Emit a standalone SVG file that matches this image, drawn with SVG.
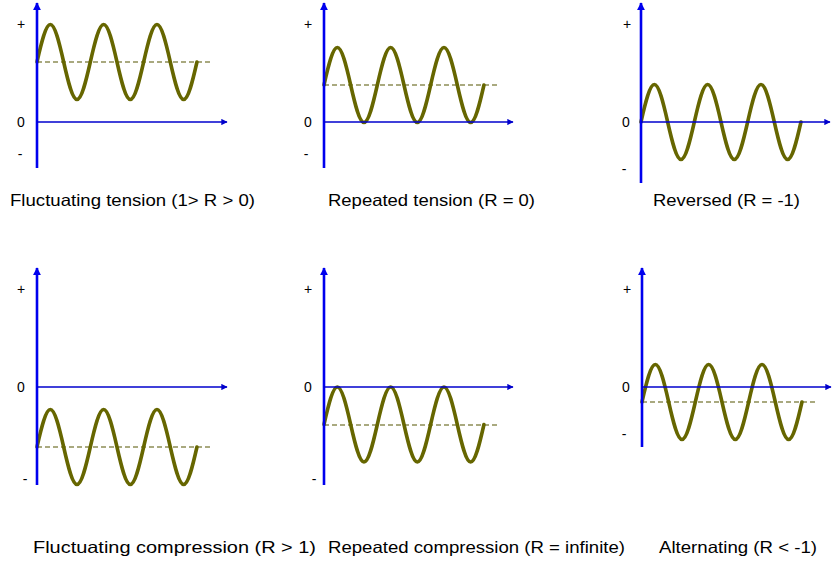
<svg xmlns="http://www.w3.org/2000/svg" xmlns:xlink="http://www.w3.org/1999/xlink" width="833" height="563" viewBox="0 0 833 563">
<style>
.vax{stroke:#0000ee;stroke-width:2.6;fill:none}
.hax{stroke:#0000cc;stroke-width:1.4;fill:none}
.wave{stroke:#666600;stroke-width:3.6;fill:none;stroke-linejoin:round;stroke-linecap:round}
.mean{stroke:#555500;stroke-width:1.2;stroke-dasharray:5,3;fill:none}
.tk{font-family:"Liberation Sans",Arial,sans-serif;font-size:14px;fill:#000;text-anchor:middle}
.cap{font-family:"Liberation Sans",Arial,sans-serif;font-size:16.5px;fill:#000}
</style>
<defs>
<marker id="av" viewBox="0 0 10 10" refX="9" refY="5" markerWidth="3.2" markerHeight="3.2" orient="auto" markerUnits="strokeWidth"><path d="M0,0 L10,5 L0,10 z" fill="#0000ee"/></marker>
<marker id="ah" viewBox="0 0 10 10" refX="9" refY="5" markerWidth="5" markerHeight="4.5" orient="auto" markerUnits="strokeWidth"><path d="M0,0 L10,5 L0,10 z" fill="#0000cc"/></marker>
<path id="w" d="M0,0 c4.35,-19.2 8.66,-37.5 13.33,-37.5 s8.99,18.3 13.33,37.5 s8.67,37.5 13.33,37.5 s8.98,-18.3 13.33,-37.5 s8.67,-37.5 13.33,-37.5 s8.99,18.3 13.33,37.5 s8.67,37.5 13.33,37.5 s8.98,-18.3 13.33,-37.5 s8.67,-37.5 13.33,-37.5 s8.99,18.3 13.33,37.5 s8.67,37.5 13.33,37.5 s8.98,-18.3 13.33,-37.5"/>
</defs>

<g id="panel1">
<line class="mean" x1="37" y1="62" x2="210" y2="62"/>
<use xlink:href="#w" href="#w" class="wave" transform="translate(37,62)"/>
<line class="vax" x1="37" y1="168" x2="37" y2="3" marker-end="url(#av)"/>
<line class="hax" x1="37" y1="122" x2="227" y2="122" marker-end="url(#ah)"/>
<text class="tk" x="21" y="29">+</text>
<text class="tk" x="21" y="127">0</text>
<text class="tk" x="20" y="159">-</text>
<text class="cap" x="10" y="206" textLength="245" lengthAdjust="spacingAndGlyphs">Fluctuating tension (1&gt; R &gt; 0)</text>
</g>

<g id="panel2">
<line class="mean" x1="324" y1="85" x2="497" y2="85"/>
<use xlink:href="#w" href="#w" class="wave" transform="translate(324,85)"/>
<line class="vax" x1="324" y1="168" x2="324" y2="3" marker-end="url(#av)"/>
<line class="hax" x1="324" y1="122" x2="513" y2="122" marker-end="url(#ah)"/>
<text class="tk" x="308" y="29">+</text>
<text class="tk" x="308" y="127">0</text>
<text class="tk" x="306" y="159">-</text>
<text class="cap" x="328" y="206" textLength="207" lengthAdjust="spacingAndGlyphs">Repeated tension (R = 0)</text>
</g>

<g id="panel3">
<use xlink:href="#w" href="#w" class="wave" transform="translate(641,122)"/>
<line class="vax" x1="641" y1="183" x2="641" y2="3" marker-end="url(#av)"/>
<line class="hax" x1="641" y1="122" x2="830" y2="122" marker-end="url(#ah)"/>
<text class="tk" x="627" y="29">+</text>
<text class="tk" x="626" y="127">0</text>
<text class="tk" x="624" y="174">-</text>
<text class="cap" x="653" y="206" textLength="147" lengthAdjust="spacingAndGlyphs">Reversed (R = -1)</text>
</g>

<g id="panel4">
<line class="mean" x1="37" y1="447" x2="210" y2="447"/>
<use xlink:href="#w" href="#w" class="wave" transform="translate(37,447)"/>
<line class="vax" x1="37" y1="485" x2="37" y2="268" marker-end="url(#av)"/>
<line class="hax" x1="37" y1="387" x2="227" y2="387" marker-end="url(#ah)"/>
<text class="tk" x="21" y="294">+</text>
<text class="tk" x="21" y="392">0</text>
<text class="tk" x="25" y="484">-</text>
<text class="cap" x="33" y="553" textLength="283" lengthAdjust="spacingAndGlyphs">Fluctuating compression (R &gt; 1)</text>
</g>

<g id="panel5">
<line class="mean" x1="324" y1="425" x2="497" y2="425"/>
<use xlink:href="#w" href="#w" class="wave" transform="translate(324,424.5)"/>
<line class="vax" x1="324" y1="485" x2="324" y2="268" marker-end="url(#av)"/>
<line class="hax" x1="324" y1="387" x2="513" y2="387" marker-end="url(#ah)"/>
<text class="tk" x="308" y="294">+</text>
<text class="tk" x="308" y="392">0</text>
<text class="tk" x="314" y="484">-</text>
<text class="cap" x="328" y="553" textLength="297" lengthAdjust="spacingAndGlyphs">Repeated compression (R = infinite)</text>
</g>

<g id="panel6">
<line class="mean" x1="642" y1="402" x2="815" y2="402"/>
<use xlink:href="#w" href="#w" class="wave" transform="translate(642,402)"/>
<line class="vax" x1="642" y1="447" x2="642" y2="268" marker-end="url(#av)"/>
<line class="hax" x1="642" y1="387" x2="831" y2="387" marker-end="url(#ah)"/>
<text class="tk" x="627" y="294">+</text>
<text class="tk" x="626" y="392">0</text>
<text class="tk" x="624" y="439">-</text>
<text class="cap" x="659" y="553" textLength="158" lengthAdjust="spacingAndGlyphs">Alternating (R &lt; -1)</text>
</g>
</svg>
